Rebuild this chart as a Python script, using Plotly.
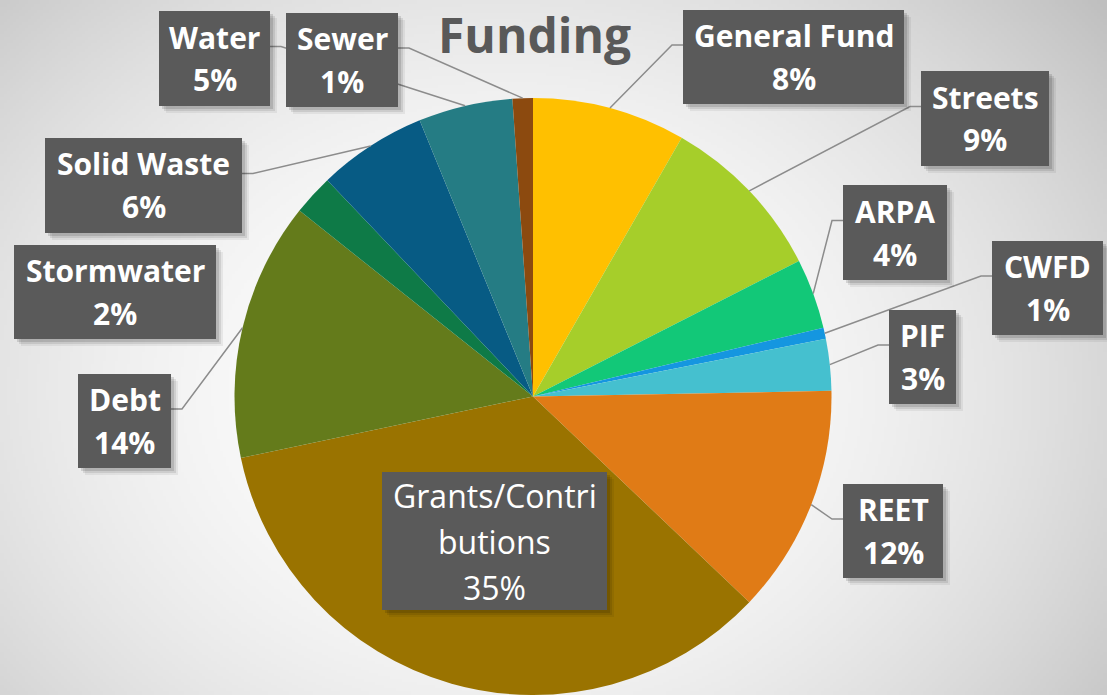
import base64
import math
import struct
import zlib

import numpy as np
import plotly.graph_objects as go

W, H = 1107, 695

# ---------------- data ----------------
categories = ["General Fund", "Streets", "ARPA", "CWFD", "PIF", "REET",
              "Grants/Contributions", "Debt", "Stormwater", "Solid Waste",
              "Water", "Sewer"]
values = [8.3, 9.2, 3.8, 0.6, 2.8, 12.4, 34.6, 14.0, 2.2, 5.9, 5.1, 1.1]
colors = ["#FFC000", "#A6CE2A", "#12C878", "#1596E0", "#45C0CF", "#E07B16",
          "#9A7300", "#647B1B", "#0E7A47", "#075B84", "#257C84", "#8C4A0F"]
title_text = "Funding"

# label display lines (name part), percent computed from values
display_names = {"Grants/Contributions": ["Grants/Contri", "butions"]}

# ---------------- layout (pixels) ----------------
# label boxes: x0, y0, x1, y1
boxes = {
    "General Fund": (683, 10, 904, 104),
    "Streets": (921, 71, 1049, 166),
    "ARPA": (843, 185, 947, 280),
    "CWFD": (992, 241, 1103, 335),
    "PIF": (889, 310, 956, 404),
    "REET": (843, 484, 943, 578),
    "Grants/Contributions": (382, 472, 607, 610),
    "Debt": (78, 374, 171, 468),
    "Stormwater": (14, 245, 216, 339),
    "Solid Waste": (45, 138, 242, 233),
    "Water": (159, 11, 270, 106),
    "Sewer": (286, 13, 398, 107),
}
# which labels get leader lines, and on which side of the box the line attaches
leaders = {
    "General Fund": "left", "Streets": "left", "ARPA": "left", "CWFD": "left",
    "PIF": "left", "REET": "left", "Debt": "right", "Solid Waste": "right",
    "Water": "right", "Sewer": "right",
}

dom_x = (233 / W, 833 / W)
dom_y = (0.0, 1 - 98 / H)


def px(x):
    return x / W


def py(y):
    return 1 - y / H


# ---------------- background gradient image ----------------
def gray_png(arr):
    h, w = arr.shape
    raw = b"".join(b"\x00" + arr[i].tobytes() for i in range(h))

    def chunk(tag, data):
        c = struct.pack(">I", len(data)) + tag + data
        return c + struct.pack(">I", zlib.crc32(tag + data) & 0xFFFFFFFF)

    png = b"\x89PNG\r\n\x1a\n"
    png += chunk(b"IHDR", struct.pack(">IIBBBBB", w, h, 8, 0, 0, 0, 0))
    png += chunk(b"IDAT", zlib.compress(raw, 9))
    png += chunk(b"IEND", b"")
    return "data:image/png;base64," + base64.b64encode(png).decode()


gw, gh = 370, 232
Y, X = np.mgrid[0:gh, 0:gw]
Xp = X * W / gw
Yp = Y * H / gh
d = np.sqrt(((Xp - 500) / 700) ** 2 + ((Yp - 390) / 560) ** 2)
g = 255 - 52 * np.clip(d, 0, 1.25) ** 2
bg = gray_png(np.clip(g, 0, 255).astype(np.uint8))

# ---------------- figure ----------------
fig = go.Figure()
fig.add_trace(go.Pie(
    labels=categories, values=values, sort=False, direction="clockwise",
    rotation=0, marker=dict(colors=colors, line=dict(width=0)),
    textinfo="none", domain=dict(x=list(dom_x), y=list(dom_y)),
    showlegend=False, hoverinfo="label+percent",
))

# pie geometry in pixels (derived from domain)
pw = (dom_x[1] - dom_x[0]) * W
ph = (dom_y[1] - dom_y[0]) * H
R = min(pw, ph) / 2
CX = (dom_x[0] + dom_x[1]) / 2 * W
CY = (1 - (dom_y[0] + dom_y[1]) / 2) * H

total = sum(values)
cum = 0.0
mids = {}
for c, v in zip(categories, values):
    mids[c] = (cum + v / 2) / total * 2 * math.pi
    cum += v

shapes = []
line_col = "rgb(140,140,140)"
for c, side in leaders.items():
    a = mids[c]
    ex = CX + R * math.sin(a)
    ey = CY - R * math.cos(a)
    x0, y0, x1, y1 = boxes[c]
    ay = (y0 + y1) / 2 - 12
    if side == "left":
        bx, kx = x0, x0 - 11
    else:
        bx, kx = x1, x1 + 11
    path = f"M {px(ex)} {py(ey)} L {px(kx)} {py(ay)} L {px(bx)} {py(ay)}"
    shapes.append(dict(type="path", path=path, xref="paper", yref="paper",
                       line=dict(color=line_col, width=1.5), layer="above"))

for c, (x0, y0, x1, y1) in boxes.items():
    for off, alpha in ((7, 0.06), (5, 0.09), (3, 0.12)):
        shapes.append(dict(type="rect", xref="paper", yref="paper",
                           x0=px(x0 + off), x1=px(x1 + off),
                           y0=py(y0 + off), y1=py(y1 + off),
                           fillcolor=f"rgba(0,0,0,{alpha})", line=dict(width=0),
                           layer="above"))
for c, (x0, y0, x1, y1) in boxes.items():
    shapes.append(dict(type="rect", xref="paper", yref="paper",
                       x0=px(x0), x1=px(x1), y0=py(y0), y1=py(y1),
                       fillcolor="#5a5a5a", line=dict(width=0), layer="above"))

annotations = []
for c, v in zip(categories, values):
    x0, y0, x1, y1 = boxes[c]
    pct = f"{round(v / total * 100)}%"
    lines = display_names.get(c, [c]) + [pct]
    n = len(lines)
    gap = 46 if n == 3 else 43
    top = y0 + ((y1 - y0) - (n - 1) * gap) / 2
    bold = c != "Grants/Contributions"
    for i, t in enumerate(lines):
        annotations.append(dict(
            x=px((x0 + x1) / 2), y=py(top + i * gap), xref="paper", yref="paper",
            text=f"<b>{t}</b>" if bold else t, showarrow=False,
            xanchor="center", yanchor="middle",
            font=dict(family="Open Sans", size=30 if bold else 32, color="white"),
        ))

annotations.append(dict(
    x=px(534), y=py(34), xref="paper", yref="paper", text=f"<b>{title_text}</b>",
    showarrow=False, xanchor="center", yanchor="middle",
    font=dict(family="Open Sans", size=48, color="#595959"),
))

fig.update_layout(
    width=W, height=H, margin=dict(l=0, r=0, t=0, b=0),
    paper_bgcolor="#d8d8d8", plot_bgcolor="rgba(0,0,0,0)",
    images=[dict(source=bg, xref="paper", yref="paper", x=0, y=1, sizex=1,
                 sizey=1, sizing="stretch", layer="below", xanchor="left",
                 yanchor="top")],
    shapes=shapes, annotations=annotations,
)

fig.write_html(
    "out.html",
    config={"displayModeBar": False},
    post_script="document.body.style.margin='0';document.body.style.overflow='hidden';",
)
